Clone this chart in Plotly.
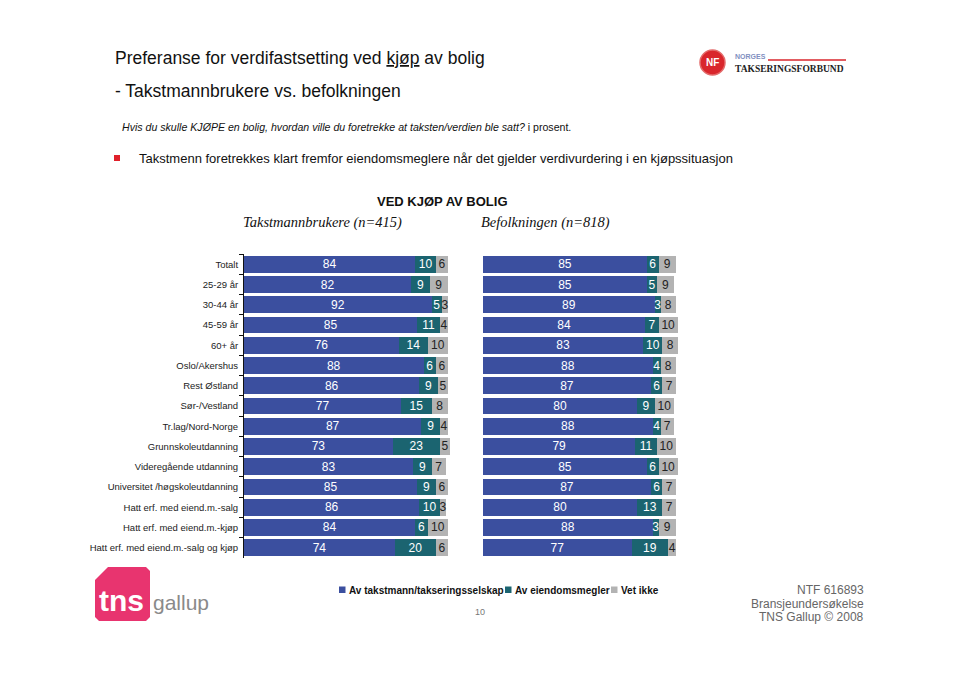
import plotly.graph_objects as go

# ---------------- data ----------------
categories = ["Totalt", "25-29 år", "30-44 år", "45-59 år", "60+ år", "Oslo/Akershus",
              "Rest Østland", "Sør-/Vestland", "Tr.lag/Nord-Norge", "Grunnskoleutdanning",
              "Videregående utdanning", "Universitet /høgskoleutdanning",
              "Hatt erf. med eiend.m.-salg", "Hatt erf. med eiend.m.-kjøp",
              "Hatt erf. med eiend.m.-salg og kjøp"]
series_names = ["Av takstmann/takseringsselskap", "Av eiendomsmegler", "Vet ikke"]

takst_takstmann = [84, 82, 92, 85, 76, 88, 86, 77, 87, 73, 83, 85, 86, 84, 74]
takst_megler    = [10, 9, 5, 11, 14, 6, 9, 15, 9, 23, 9, 9, 10, 6, 20]
takst_vetikke   = [6, 9, 3, 4, 10, 6, 5, 8, 4, 5, 7, 6, 3, 10, 6]

bef_takstmann = [85, 85, 89, 84, 83, 88, 87, 80, 88, 79, 85, 87, 80, 88, 77]
bef_megler    = [6, 5, 3, 7, 10, 4, 6, 9, 4, 11, 6, 6, 13, 3, 19]
bef_vetikke   = [9, 9, 8, 10, 8, 8, 7, 10, 7, 10, 10, 7, 7, 9, 4]

# ---------------- style ----------------
OFF = 8  # default page body margin
W, H = 960 - OFF, 677 - OFF
colors = ["#3b4f9f", "#1b6470", "#b3b3b3"]
text_colors = ["white", "white", "#222222"]
SANS = "Liberation Sans, Arial, sans-serif"
SERIF = "Liberation Serif, Times New Roman, serif"
XMAX = 102


def px(x):
    return (x - OFF) / W


def py(y):
    return 1 - (y - OFF) / H


fig = go.Figure()

panels = [
    ("x", "y", [takst_takstmann, takst_megler, takst_vetikke]),
    ("x2", "y2", [bef_takstmann, bef_megler, bef_vetikke]),
]
for xa, ya, vals in panels:
    for i, (name, v) in enumerate(zip(series_names, vals)):
        fig.add_trace(go.Bar(
            x=v, y=categories, orientation="h", name=name,
            marker=dict(color=colors[i], line=dict(width=0)),
            text=v, texttemplate="%{text}", textposition="inside",
            insidetextanchor="middle", textangle=0, constraintext="none",
            textfont=dict(family=SANS, size=12, color=text_colors[i]),
            cliponaxis=False, showlegend=False,
            xaxis=xa, yaxis=ya,
        ))

ydom = [py(557.8), py(254.2)]
lw = 204 * XMAX / 100
rw = 193 * XMAX / 100
fig.update_layout(
    width=W, height=H,
    margin=dict(l=0, r=0, t=0, b=0),
    paper_bgcolor="white", plot_bgcolor="white",
    barmode="stack", bargap=0.175,
    uniformtext=dict(minsize=12, mode="show"),
    xaxis=dict(domain=[px(244), px(244 + lw)], range=[0, XMAX], visible=False, fixedrange=True),
    xaxis2=dict(domain=[px(483), px(483 + rw)], range=[0, XMAX], visible=False, fixedrange=True),
    yaxis=dict(domain=ydom, anchor="x", categoryorder="array", categoryarray=categories,
               autorange="reversed", showline=True, linecolor="#111111", linewidth=1,
               ticks="outside", tickson="boundaries", ticklen=4, tickcolor="#111111",
               ticklabelstandoff=3,
               tickfont=dict(family=SANS, size=9.5, color="#222222"), showgrid=False),
    yaxis2=dict(domain=ydom, anchor="x2", categoryorder="array", categoryarray=categories,
                autorange="reversed", visible=False),
)

ann = []
shapes = []


def text(x, y, s, size, xanchor="left", yanchor="middle", color="#111111", family=SANS, **kw):
    ann.append(dict(x=px(x), y=py(y), xref="paper", yref="paper", text=s, showarrow=False,
                    xanchor=xanchor, yanchor=yanchor,
                    font=dict(family=family, size=size, color=color), **kw))


def rect(x0, y0, x1, y1, color):
    shapes.append(dict(type="rect", xref="paper", yref="paper", x0=px(x0), x1=px(x1),
                       y0=py(y1), y1=py(y0), fillcolor=color, line=dict(width=0)))


# titles
text(113, 58, "Preferanse for verdifastsetting ved <u>kjøp</u> av bolig", 17.5)
text(113, 91, "- Takstmannbrukere vs. befolkningen", 17.5)
text(120, 127, "<i>Hvis du skulle KJØPE en bolig, hvordan ville du foretrekke at taksten/verdien ble satt?</i> i prosent.", 10.6)
rect(114, 155, 120, 161, "#e0202a")
text(137, 158, "Takstmenn foretrekkes klart fremfor eiendomsmeglere når det gjelder verdivurdering i en kjøpssituasjon", 13)
text(442, 201, "<b>VED KJØP AV BOLIG</b>", 13, xanchor="center")
text(322, 222, "<i>Takstmannbrukere (n=415)</i>", 14.5, xanchor="center", family=SERIF)
text(545, 222, "<i>Befolkningen (n=818)</i>", 14.5, xanchor="center", family=SERIF)

# legend (manual)
leg_x = [339, 505, 611]
for i, name in enumerate(series_names):
    rect(leg_x[i], 586.5, leg_x[i] + 6.5, 593, colors[i])
    text(leg_x[i] + 7.5, 590, "<b>" + name + "</b>", 10, color="#111111")

# footer
text(480, 612, "10", 9, xanchor="center", color="#777777")
text(866, 590, "NTF 616893", 12, xanchor="right", color="#666666")
text(866, 604, "Bransjeundersøkelse", 12, xanchor="right", color="#666666")
text(866, 617, "TNS Gallup © 2008", 12, xanchor="right", color="#666666")

# TNS gallup logo
pts = [(108, 567), (146, 567), (150, 571), (150, 617), (146, 621), (99, 621), (95, 617), (95, 580)]
path = "M " + " L ".join(f"{px(a):.5f},{py(b):.5f}" for a, b in pts) + " Z"
shapes.append(dict(type="path", xref="paper", yref="paper", path=path,
                   fillcolor="#e8346f", line=dict(width=0)))
text(121, 600, "<b>tns</b>", 30, xanchor="center", color="white")
text(151, 602, "gallup", 21, color="#8a8a8a")

# NTF logo
shapes.append(dict(type="circle", xref="paper", yref="paper", x0=px(700), x1=px(725),
                   y0=py(75), y1=py(50), fillcolor="#d9262c", line=dict(color="#e36a6a", width=1.5)))
text(712.5, 63, "<b>NF</b>", 10, xanchor="center", color="white")
text(733, 57, "<b>NORGES</b>", 7, color="#7f8fbf")
shapes.append(dict(type="line", xref="paper", yref="paper", x0=px(768), x1=px(846),
                   y0=py(60), y1=py(60), line=dict(color="#d9262c", width=1.5)))
text(733, 69, "<b>TAKSERINGSFORBUND</b>", 9.5, color="#222222", family=SERIF)

fig.update_layout(annotations=ann, shapes=shapes)
fig.write_html("out.html")
